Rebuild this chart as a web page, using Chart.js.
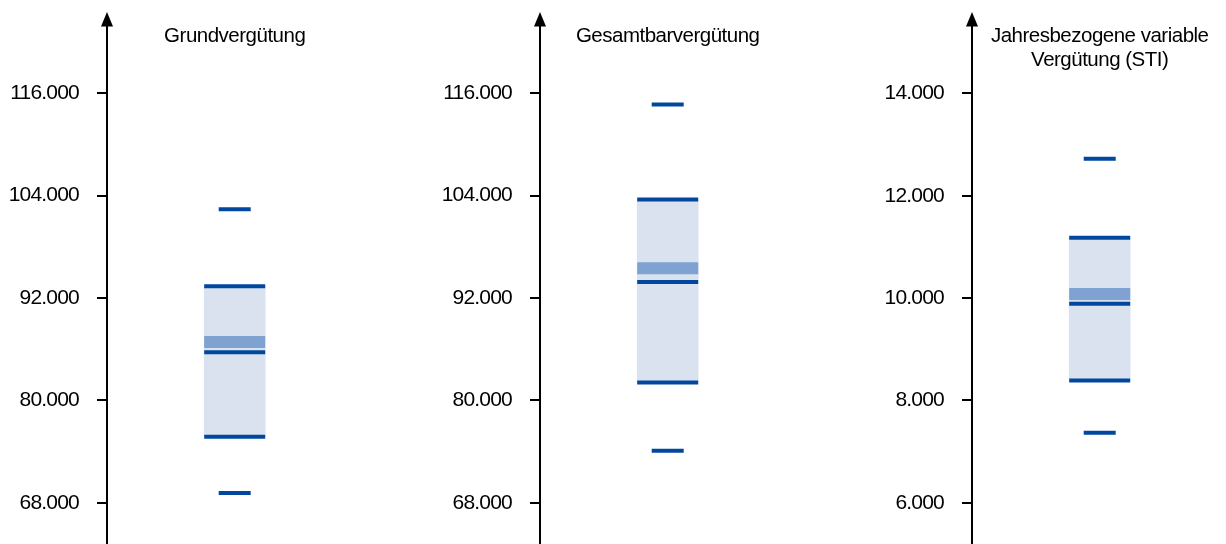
<!DOCTYPE html>
<html><head><meta charset="utf-8">
<script src="https://cdn.jsdelivr.net/npm/chart.js@4/dist/chart.umd.min.js"></script>
<style>
html,body{margin:0;padding:0;background:#fff;}
#wrap{position:relative;width:1226px;height:544px;overflow:hidden;}
.panel{position:absolute;top:0;width:433px;height:544px;}
</style></head><body>
<div id="wrap">
<div class="panel" style="left:0px"><canvas id="c0" width="433" height="544"></canvas></div>
<div class="panel" style="left:433px"><canvas id="c1" width="433" height="544"></canvas></div>
<div class="panel" style="left:865px"><canvas id="c2" width="433" height="544"></canvas></div>
</div>
<script>
// ---- data ----
const categories = [['Grundvergütung'], ['Gesamtbarvergütung'], ['Jahresbezogene variable', 'Vergütung (STI)']];
const whiskerHigh = [102400, 114700, 12720];
const q3Values    = [93400, 103550, 11180];
const meanValues  = [86850, 95500, 10080];
const medianValues= [85650, 93900, 9890];
const q1Values    = [75750, 82100, 8390];
const whiskerLow  = [69150, 74100, 7370];
const tickValues = [
  [68000, 80000, 92000, 104000, 116000],
  [68000, 80000, 92000, 104000, 116000],
  [6000, 8000, 10000, 12000, 14000]
];
const tickLabels = [
  ['68.000', '80.000', '92.000', '104.000', '116.000'],
  ['68.000', '80.000', '92.000', '104.000', '116.000'],
  ['6.000', '8.000', '10.000', '12.000', '14.000']
];
const yMin = [63183, 63183, 5197];
const yMax = [124590, 124590, 15432];

// ---- styling ----
const FONT = '"Liberation Sans", Arial, sans-serif';
const DARK = '#00479D';
const BOX = '#D9E2EE';
const MEANC = '#7FA2D0';

const decor = {
  id: 'decor',
  beforeDraw(chart) {
    chart.ctx.letterSpacing = '-0.8px';
  },
  afterDraw(chart, args, opts) {
    const ctx = chart.ctx;
    const ax = chart.chartArea.left;
    ctx.save();
    ctx.fillStyle = '#000';
    ctx.beginPath();
    ctx.moveTo(ax, 12);
    ctx.lineTo(ax - 6, 26.5);
    ctx.lineTo(ax + 6, 26.5);
    ctx.closePath();
    ctx.fill();
    const cx = chart.scales.x.getPixelForValue(0);
    ctx.font = '20.5px ' + FONT;
    ctx.letterSpacing = '-0.5px';
    ctx.textAlign = 'center';
    ctx.textBaseline = 'alphabetic';
    opts.lines.forEach((t, i) => ctx.fillText(t, cx, 41.7 + i * 24));
    ctx.restore();
  }
};

function makeChart(i) {
  const lbl = 'K';
  return new Chart(document.getElementById('c' + i), {
    type: 'bar',
    data: {
      labels: [lbl],
      datasets: [
        {
          type: 'line', order: 1, showLine: false,
          data: [{x: lbl, y: q1Values[i]}, {x: lbl, y: q3Values[i]}, {x: lbl, y: medianValues[i]}],
          pointStyle: 'line', pointRadius: 30.5, pointBorderWidth: 4, pointBorderColor: DARK
        },
        {
          type: 'line', order: 1, showLine: false,
          data: [{x: lbl, y: whiskerLow[i]}, {x: lbl, y: whiskerHigh[i]}],
          pointStyle: 'line', pointRadius: 16, pointBorderWidth: 4, pointBorderColor: DARK
        },
        {
          type: 'line', order: 2, showLine: false,
          data: [{x: lbl, y: meanValues[i]}],
          pointStyle: 'line', pointRadius: 30.5, pointBorderWidth: 12, pointBorderColor: MEANC
        },
        {
          type: 'bar', order: 3,
          data: [[q1Values[i], q3Values[i]]],
          backgroundColor: BOX, borderWidth: 0, barThickness: 61
        }
      ]
    },
    options: {
      responsive: false,
      devicePixelRatio: 1,
      animation: false,
      events: [],
      layout: { autoPadding: false, padding: { top: 20, right: 70.6, bottom: 0, left: 0 } },
      plugins: {
        legend: { display: false },
        tooltip: { enabled: false },
        decor: { lines: categories[i] }
      },
      scales: {
        x: { display: false, offset: true },
        y: {
          min: yMin[i], max: yMax[i],
          afterBuildTicks: (s) => { s.ticks = tickValues[i].map(v => ({ value: v })); },
          afterFit: (s) => { s.width = 107; s.paddingTop = 0; s.paddingBottom = 0; },
          ticks: {
            callback: (v, idx) => tickLabels[i][idx],
            font: { family: FONT, size: 21 },
            color: '#000',
            padding: 18
          },
          grid: { display: true, drawOnChartArea: false, drawTicks: true, tickLength: 10, color: '#000', lineWidth: 2 },
          border: { display: true, color: '#000', width: 2 }
        }
      }
    },
    plugins: [decor]
  });
}
[0, 1, 2].forEach(makeChart);
</script>
</body></html>
